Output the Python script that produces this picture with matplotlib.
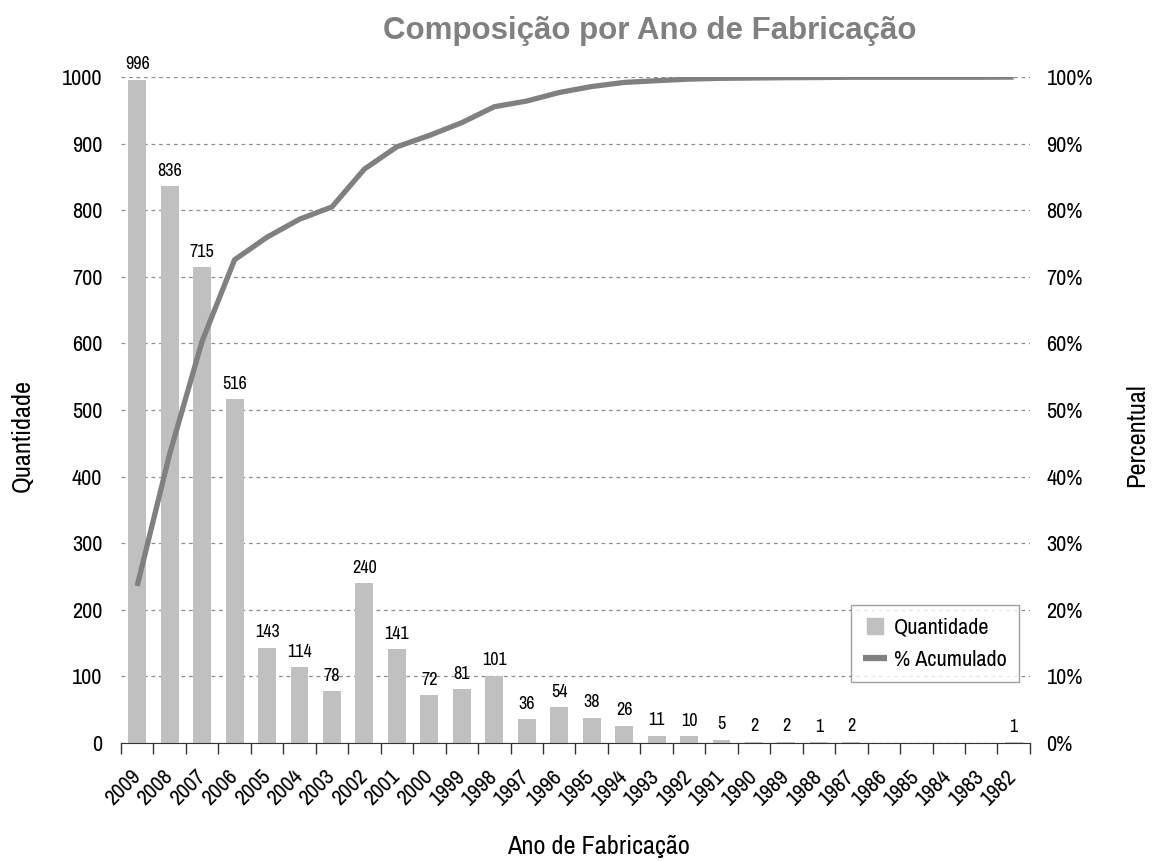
import matplotlib
matplotlib.use("Agg")
import matplotlib.pyplot as plt
from matplotlib.lines import Line2D
import numpy as np

plt.rcParams['font.family'] = ['Archivo Narrow', 'Liberation Sans', 'DejaVu Sans']

anos = ['2009', '2008', '2007', '2006', '2005', '2004', '2003', '2002', '2001', '2000',
        '1999', '1998', '1997', '1996', '1995', '1994', '1993', '1992', '1991', '1990',
        '1989', '1988', '1987', '1986', '1985', '1984', '1983', '1982']
quantidade = [996, 836, 715, 516, 143, 114, 78, 240, 141, 72,
              81, 101, 36, 54, 38, 26, 11, 10, 5, 2,
              2, 1, 2, 0, 0, 0, 0, 1]

# percentual acumulado, a partir das quantidades
acumulado = np.cumsum(quantidade) / np.sum(quantidade)

x = np.arange(len(anos))

fig = plt.figure(figsize=(11.52, 8.61), dpi=100)
ax = fig.add_axes([0.105, 0.137, 0.789, 0.7735])
ax2 = ax.twinx()

ax.bar(x, quantidade, width=0.55, color='#c0c0c0', zorder=2)
for xi, q in zip(x, quantidade):
    if q > 0:
        ax.text(xi, q + 11, str(q), ha='center', va='bottom', fontsize=13)

ax2.plot(x, acumulado, color='#808080', lw=3.8, solid_capstyle='butt', zorder=3)

ax.set_xlim(-0.5, len(anos) - 0.5)
ax.set_ylim(0, 1000)
ax2.set_ylim(0, 1)
ax.set_yticks(np.arange(0, 1001, 100))
pct = np.arange(0, 1.01, 0.1)
ax2.set_yticks(pct)
ax2.set_yticklabels(['{:d}%'.format(int(round(v * 100))) for v in pct])

ax.yaxis.grid(True, linestyle=(0, (3, 3)), color='#8c8c8c', lw=0.9, zorder=0)
ax.set_axisbelow(True)

ax.set_xticks(x)
ax.set_xticklabels(anos, rotation=45, ha='right', va='center', rotation_mode='anchor', fontsize=16)
ax.set_xticks(np.arange(-0.5, len(anos), 1), minor=True)
ax.tick_params(axis='x', which='major', length=0, pad=22)
ax.tick_params(axis='x', which='minor', length=8, width=1, color='#333333')
ax.tick_params(axis='y', length=0, labelsize=16, pad=13.5)
ax2.tick_params(axis='y', length=0, labelsize=16, pad=12)

for a in (ax, ax2):
    for s in ('top', 'left', 'right'):
        a.spines[s].set_visible(False)
ax.spines['bottom'].set_color('#333333')
ax2.spines['bottom'].set_visible(False)

fig.text(22 / 1152, 1 - 436 / 861, 'Quantidade', rotation=90, ha='center', va='center', fontsize=19)
fig.text(1137 / 1152, 1 - 435 / 861, 'Percentual', rotation=90, ha='center', va='center', fontsize=19)
fig.text(598 / 1152, 1 - 846 / 861, 'Ano de Fabricação', ha='center', va='center', fontsize=19)

fig.text(0.564, 0.964, 'Composição por Ano de Fabricação', ha='center', va='center',
         fontsize=22.5, fontweight='bold', color='#808080',
         family=['Liberation Sans', 'DejaVu Sans'])

handles = [Line2D([], [], ls='', marker='s', markersize=12, color='#c0c0c0'),
           Line2D([], [], color='#808080', lw=4.5, solid_capstyle='butt')]
leg = ax2.legend(handles, ['Quantidade', '% Acumulado'], loc='lower right',
                 bbox_to_anchor=(0.988, 0.0916), fontsize=16, fancybox=False,
                 edgecolor='#888888', handlelength=1.1, handletextpad=0.3,
                 borderpad=0.55, labelspacing=0.55, borderaxespad=0)
leg.get_frame().set_linewidth(1)

fig.savefig('out.png', dpi=100)
